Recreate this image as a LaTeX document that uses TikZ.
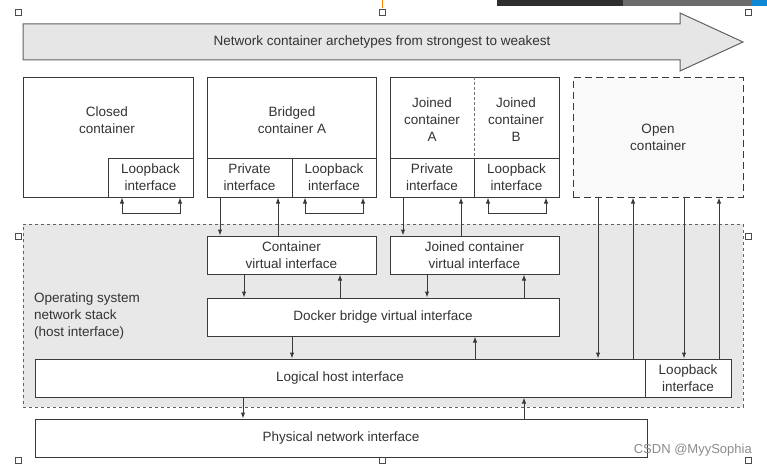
\documentclass[tikz,border=0pt]{standalone}
\usepackage{fontspec}
\setmainfont{Liberation Sans}
\usetikzlibrary{arrows.meta}
\definecolor{linec}{HTML}{3A3A3A}
\definecolor{txtc}{HTML}{333333}
\definecolor{arrfill}{HTML}{E6E6E6}
\definecolor{osfill}{HTML}{E8E8E8}
\definecolor{openfill}{HTML}{F9F9F9}
\begin{document}
\begin{tikzpicture}[x=1pt,y=-1pt,
  lab/.style={font=\fontsize{13.5}{17}\selectfont, text=txtc, align=center, inner sep=0pt},
  box/.style={draw=linec, fill=white, line width=1pt, inner sep=0pt, align=center,
              font=\fontsize{13.5}{17}\selectfont, text=txtc},
  arr/.style={draw=linec, line width=1pt, -{Latex[length=6pt,width=4.5pt]}},
  barr/.style={draw=linec, line width=1pt, {Latex[length=6pt,width=4.5pt]}-{Latex[length=6pt,width=4.5pt]}},
  plain/.style={draw=linec, line width=1pt},
  handle/.style={draw=black!70, fill=white, line width=0.6pt, minimum size=6pt, inner sep=0pt}
]
\useasboundingbox (0,0) rectangle (767,468);
\fill[white] (0,0) rectangle (767,468);

% screenshot artefacts
\fill[black!82] (497,0) rectangle (623,6);
\fill[black!58] (623,0) rectangle (752,6);
\fill[cyan!70!blue] (752,0) rectangle (767,6);
\draw[orange, line width=0.8pt] (382,0) -- (382,8);
\foreach \hx/\hy/\hn in {18/12/ha,382/12/hb,748/12/hc,18/236/hd,748/236/he,18/460/hf,382/460/hg,748/460/hh}
  \node[handle] (\hn) at (\hx,\hy) {};

% big arrow
\draw[draw=linec!80, fill=arrfill, line width=1pt]
  (23,24) -- (680,24) -- (680,13) -- (743,42) -- (680,71) -- (680,60) -- (23,60) -- cycle;
\node[lab] (title) at (382,42) {Network container archetypes from strongest to weakest};

% OS network stack region
\node[draw=linec!80, fill=osfill, dashed, line width=1pt, minimum width=720pt, minimum height=183pt, inner sep=0pt] (os) at (383,315.5) {};
\node[lab, align=left, anchor=west] (oslab) at (34,316) {Operating system\\network stack\\(host interface)};

% closed container
\node[box, minimum width=170pt, minimum height=119pt] (closed) at (108,137.5) {};
\node[lab] (closedlab) at (107,120) {Closed\\container};
\node[box, minimum width=85pt, minimum height=39pt] (closedlo) at (150.5,177.5) {Loopback\\interface};

% bridged container A
\node[box, minimum width=169pt, minimum height=119pt] (bridged) at (291.5,137.5) {};
\node[lab] (bridgedlab) at (292,120) {Bridged\\container A};
\node[box, minimum width=85pt, minimum height=39pt] (bpriv) at (249.5,177.5) {Private\\interface};
\node[box, minimum width=84pt, minimum height=39pt] (blo) at (334,177.5) {Loopback\\interface};

% joined containers
\node[box, minimum width=169pt, minimum height=119pt] (joined) at (474.5,137.5) {};
\draw[linec!70, line width=0.8pt, densely dashed] (joined.north) -- ++(0,80);
\node[lab] (jalab) at (432,120) {Joined\\container\\A};
\node[lab] (jblab) at (516,120) {Joined\\container\\B};
\node[box, minimum width=84pt, minimum height=39pt] (jpriv) at (432,177.5) {Private\\interface};
\node[box, minimum width=85pt, minimum height=39pt] (jlo) at (516.5,177.5) {Loopback\\interface};

% open container
\node[box, fill=openfill, dashed, dash pattern=on 7pt off 4pt, minimum width=170pt, minimum height=119pt] (open) at (658,137.5) {Open\\container};

% virtual interfaces
\node[box, minimum width=169pt, minimum height=38pt] (cvi) at (291.5,255) {Container\\virtual interface};
\node[box, minimum width=169pt, minimum height=38pt] (jcvi) at (474.5,255) {Joined container\\virtual interface};
\node[box, minimum width=352pt, minimum height=38pt] (docker) at (383,317) {Docker bridge virtual interface};
\node[box, minimum width=610pt, minimum height=38pt] (logical) at (340,378) {Logical host interface};
\node[box, minimum width=86pt, minimum height=38pt] (hostlo) at (688,378) {Loopback\\interface};
\node[box, minimum width=612pt, minimum height=38pt] (phys) at (341,438) {Physical network interface};

% loopback brackets
\draw[barr] (122,0 |- closedlo.south) -- (122,213) -- (180,213) -- (180,0 |- closedlo.south);
\draw[barr] (305,0 |- blo.south) -- (305,213) -- (363,213) -- (363,0 |- blo.south);
\draw[barr] (488,0 |- jlo.south) -- (488,213) -- (546,213) -- (546,0 |- jlo.south);

% container <-> virtual interfaces
\draw[arr] (220,0 |- bpriv.south) -- (220,0 |- cvi.north);
\draw[arr] (278,0 |- cvi.north) -- (278,0 |- bpriv.south);
\draw[arr] (403,0 |- jpriv.south) -- (403,0 |- jcvi.north);
\draw[arr] (461,0 |- jcvi.north) -- (461,0 |- jpriv.south);

% virtual interfaces <-> docker bridge
\draw[arr] (244,0 |- cvi.south) -- (244,0 |- docker.north);
\draw[arr] (340,0 |- docker.north) -- (340,0 |- cvi.south);
\draw[arr] (427,0 |- jcvi.south) -- (427,0 |- docker.north);
\draw[arr] (524,0 |- docker.north) -- (524,0 |- jcvi.south);

% docker <-> logical
\draw[arr] (292,0 |- docker.south) -- (292,0 |- logical.north);
\draw[arr] (475,0 |- logical.north) -- (475,0 |- docker.south);

% logical <-> physical
\draw[arr] (243,0 |- logical.south) -- (243,0 |- phys.north);
\draw[arr] (524,0 |- phys.north) -- (524,0 |- logical.south);

% open container <-> host
\draw[arr] (598,0 |- open.south) -- (598,0 |- logical.north);
\draw[arr] (633,0 |- logical.north) -- (633,0 |- open.south);
\draw[arr] (684,0 |- open.south) -- (684,0 |- hostlo.north);
\draw[arr] (719,0 |- hostlo.north) -- (719,0 |- open.south);

% watermark
\node[font=\fontsize{13}{15}\selectfont, text=black!45, anchor=east, inner sep=0pt] (wm) at (752,450) {CSDN @MyySophia};
\end{tikzpicture}
\end{document}
